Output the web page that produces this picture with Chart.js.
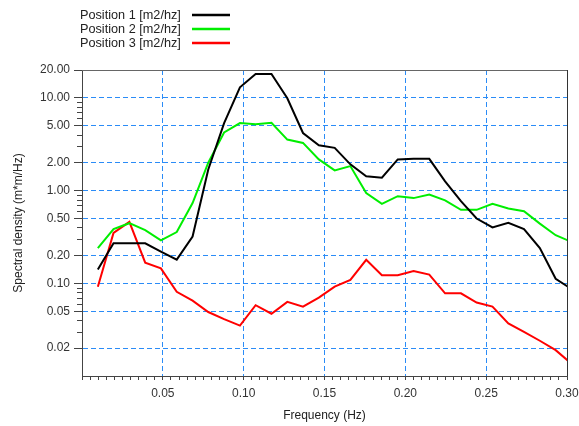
<!DOCTYPE html>
<html lang="en">
<head>
    <meta charset="UTF-8">
    <title>Spectral density</title>
    <script src="https://cdn.jsdelivr.net/npm/chart.js"></script>
    <style>
        body {
            margin: 0;
            padding: 0;
            background: #fff;
        }
        #chart-container {
            position: relative;
            width: 579px;
            height: 426px;
        }
    </style>
</head>
<body>
    <div id="chart-container">
        <canvas id="psd-chart"></canvas>
    </div>

    <script>
        // Frequencies (Hz), df ~ 0.00977
        const freq = [0.0098, 0.0195, 0.0293, 0.0391, 0.0488, 0.0586, 0.0684, 0.0781, 0.0879, 0.0977,
                      0.1074, 0.1172, 0.1270, 0.1367, 0.1465, 0.1563, 0.1660, 0.1758, 0.1855, 0.1953,
                      0.2051, 0.2148, 0.2246, 0.2344, 0.2441, 0.2539, 0.2637, 0.2734, 0.2832, 0.2930, 0.3027];

        const seriesNames = ['Position 1 [m2/hz]', 'Position 2 [m2/hz]', 'Position 3 [m2/hz]'];
        const seriesColors = ['#000000', '#00ee00', '#ff0000'];

        const pos1 = [0.141, 0.27, 0.27, 0.27, 0.22, 0.18, 0.32, 1.69, 5.35, 13.0,
                      18.1, 18.1, 9.9, 4.18, 3.08, 2.89, 1.92, 1.43, 1.38, 2.17,
                      2.2, 2.2, 1.26, 0.77, 0.50, 0.40, 0.45, 0.385, 0.24, 0.112, 0.087];
        const pos2 = [0.24, 0.385, 0.445, 0.374, 0.29, 0.357, 0.735, 2.0, 4.24, 5.35,
                      5.2, 5.4, 3.55, 3.27, 2.17, 1.65, 1.84, 0.94, 0.72, 0.87,
                      0.83, 0.905, 0.785, 0.62, 0.62, 0.72, 0.64, 0.6, 0.44, 0.33, 0.28];
        const pos3 = [0.092, 0.35, 0.46, 0.167, 0.145, 0.081, 0.065, 0.049, 0.041, 0.035,
                      0.058, 0.047, 0.063, 0.056, 0.070, 0.092, 0.109, 0.179, 0.122, 0.122,
                      0.136, 0.124, 0.078, 0.078, 0.062, 0.056, 0.037, 0.030, 0.024, 0.019, 0.0136];

        // axis ticks
        const yTicks = [0.02, 0.05, 0.1, 0.2, 0.5, 1, 2, 5, 10, 20];
        const yMinorTicks = [0.03, 0.04, 0.06, 0.07, 0.08, 0.09, 0.3, 0.4, 0.6, 0.7, 0.8, 0.9, 3, 4, 6, 7, 8, 9];
        const xTickStep = 0.005;
        const xLabelStep = 0.05;

        const gridBlue = '#2b8cf7';
        const axisGray = '#444';

        Chart.defaults.font.family = '"Liberation Sans", Arial, sans-serif';
        Chart.defaults.font.size = 12;
        Chart.defaults.color = '#333';

        function isLabelTick(v) {
            const n = v / xLabelStep;
            return v > 1e-9 && Math.abs(n - Math.round(n)) < 1e-6;
        }

        // frame, minor y ticks and the legend on the top-left
        const extrasPlugin = {
            id: 'extras',
            afterDraw(chart) {
                const ctx = chart.ctx;
                const area = chart.chartArea;
                const y = chart.scales.y;
                ctx.save();

                // top and right frame
                ctx.lineWidth = 1;
                ctx.strokeStyle = '#666';
                ctx.beginPath();
                ctx.moveTo(area.left, area.top + 0.5);
                ctx.lineTo(area.right + 0.5, area.top + 0.5);
                ctx.stroke();
                ctx.strokeStyle = '#333';
                ctx.beginPath();
                ctx.moveTo(area.right + 0.5, area.top);
                ctx.lineTo(area.right + 0.5, area.bottom);
                ctx.stroke();

                // short minor ticks on the log axis
                ctx.strokeStyle = axisGray;
                yMinorTicks.forEach(v => {
                    const py = Math.round(y.getPixelForValue(v)) + 0.5;
                    ctx.beginPath();
                    ctx.moveTo(area.left - 5, py);
                    ctx.lineTo(area.left, py);
                    ctx.stroke();
                });

                // legend: text then line sample
                ctx.font = '12.7px "Liberation Sans", Arial, sans-serif';
                ctx.textBaseline = 'middle';
                ctx.textAlign = 'left';
                chart.data.datasets.forEach((ds, i) => {
                    const ly = 15 + i * 14;
                    ctx.fillStyle = '#222';
                    ctx.fillText(ds.label, 80, ly);
                    ctx.strokeStyle = ds.borderColor;
                    ctx.lineWidth = 2.5;
                    ctx.beginPath();
                    ctx.moveTo(192, ly);
                    ctx.lineTo(230, ly);
                    ctx.stroke();
                });
                ctx.restore();
            }
        };

        const allSeries = [pos1, pos2, pos3];
        const datasets = allSeries.map((vals, i) => ({
            label: seriesNames[i],
            data: vals.map((v, k) => ({ x: freq[k], y: v })),
            borderColor: seriesColors[i],
            backgroundColor: seriesColors[i],
            borderWidth: 2,
            pointRadius: 0,
            tension: 0,
            fill: false
        }));

        const ctx = document.getElementById('psd-chart').getContext('2d');
        new Chart(ctx, {
            type: 'line',
            data: { datasets: datasets },
            options: {
                responsive: true,
                maintainAspectRatio: false,
                animation: false,
                layout: { padding: { top: 70, right: 12, left: 0, bottom: 0 } },
                plugins: {
                    legend: { display: false },
                    tooltip: { enabled: false }
                },
                scales: {
                    x: {
                        type: 'linear',
                        min: 0,
                        max: 0.30,
                        afterBuildTicks: (scale) => {
                            const ticks = [];
                            for (let i = 0; i <= 60; i++) ticks.push({ value: +(i * xTickStep).toFixed(3) });
                            scale.ticks = ticks;
                        },
                        afterFit: (scale) => {
                            scale.height = 50;
                            scale.paddingRight = 0;
                            scale.paddingLeft = 0;
                        },
                        ticks: {
                            autoSkip: false,
                            minRotation: 0,
                            maxRotation: 0,
                            padding: 6,
                            color: '#333',
                            callback: (v) => isLabelTick(v) ? v.toFixed(2) : ''
                        },
                        grid: {
                            color: (c) => (c.tick && isLabelTick(c.tick.value)) ? gridBlue : 'rgba(0,0,0,0)',
                            tickColor: axisGray,
                            tickLength: 4,
                            lineWidth: 1
                        },
                        border: { display: true, color: axisGray, width: 1, dash: [5, 3] },
                        title: {
                            display: true,
                            text: 'Frequency (Hz)',
                            color: '#222',
                            padding: { top: 0, bottom: 3 }
                        }
                    },
                    y: {
                        type: 'logarithmic',
                        min: 0.01,
                        max: 20,
                        afterBuildTicks: (scale) => {
                            scale.ticks = yTicks.map(v => ({ value: v }));
                        },
                        afterFit: (scale) => { scale.width = 82; },
                        ticks: {
                            autoSkip: false,
                            padding: 4,
                            color: '#333',
                            callback: (v) => Number(v).toFixed(2)
                        },
                        grid: {
                            color: (c) => (c.tick && c.tick.value < 15) ? gridBlue : 'rgba(0,0,0,0)',
                            tickColor: axisGray,
                            tickLength: 8,
                            lineWidth: 1
                        },
                        border: { display: true, color: axisGray, width: 1, dash: [5, 3] },
                        title: {
                            display: true,
                            text: 'Spectral density (m*m/Hz)',
                            color: '#222',
                            padding: { top: 11, bottom: 0 }
                        }
                    }
                }
            },
            plugins: [extrasPlugin]
        });
    </script>
</body>
</html>
